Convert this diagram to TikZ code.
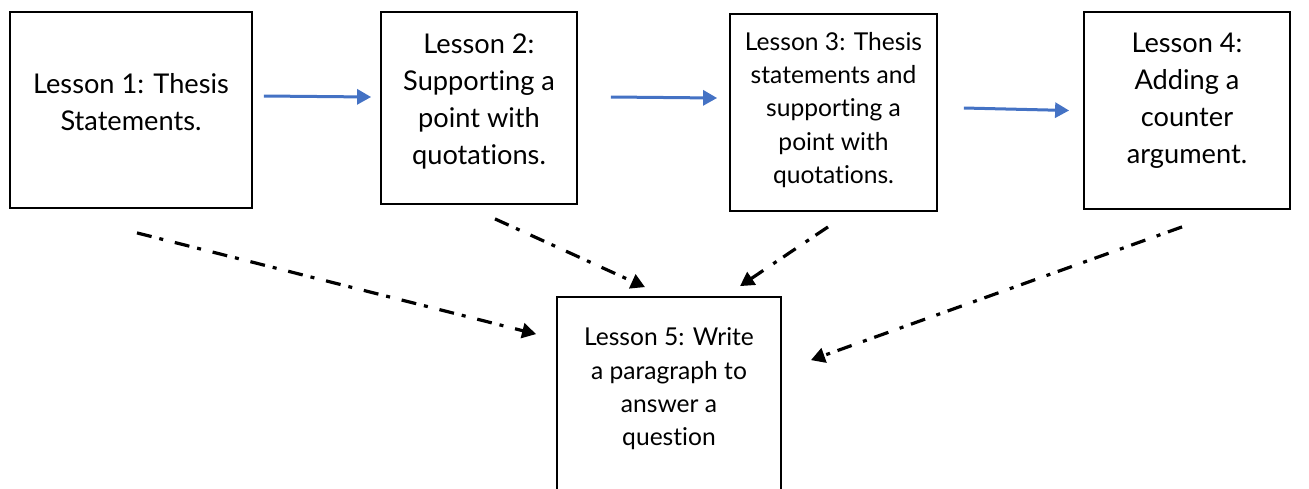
\documentclass[tikz,border=0pt]{standalone}
\usepackage{fontspec}
\setmainfont{Lato}[Ligatures={NoCommon,NoRare}]
\usetikzlibrary{arrows.meta}
\definecolor{flowblue}{HTML}{4472C4}

\begin{document}
\begin{tikzpicture}[
    x=0.5pt, y=-0.5pt,
    box/.style={draw, line width=0.9pt, inner sep=0pt},
    txt/.style={align=center, inner sep=0pt, font=\fontsize{13.6}{18.5}\selectfont},
    smalltxt/.style={align=center, inner sep=0pt, font=\fontsize{12.3}{16.7}\selectfont},
    flow/.style={-{Triangle[length=7pt,width=7.5pt]}, line width=1.5pt, draw=flowblue, color=flowblue},
    feed/.style={-{Triangle[length=7pt,width=7.5pt,sep=0pt]}, line width=1.6pt, dash pattern=on 7.5pt off 4pt on 2pt off 6pt}
  ]
    \clip (0,0) rectangle (1309,488);

    \node[box, minimum width=121pt, minimum height=98pt] (l1) at (131,110) {};
    \node[box, minimum width=98pt, minimum height=96pt] (l2) at (479,108) {};
    \node[box, minimum width=103.5pt, minimum height=98.5pt] (l3) at (833.5,112.5) {};
    \node[box, minimum width=103pt, minimum height=98.5pt] (l4) at (1187,110.5) {};
    \node[box, minimum width=112pt, minimum height=101.5pt] (l5) at (669,398.5) {};

    \node[txt] (t1) at (131,102) {Lesson 1: Thesis\\Statements.};
    \node[txt] (t2) at (479,101) {Lesson 2:\\Supporting a\\point with\\quotations.};
    \node[smalltxt] (t3) at (833.5,110) {Lesson 3: Thesis\\statements and\\supporting a\\point with\\quotations.};
    \node[txt] (t4) at (1187,101) {Lesson 4:\\Adding a\\counter\\argument.};
    \node[smalltxt] (t5) at (669,389) {Lesson 5: Write\\a paragraph to\\answer a\\question};

    % lesson sequence
    \draw[flow] ([xshift=5.5pt,yshift=7pt]l1.east) -- ([xshift=-4.5pt,yshift=5.5pt]l2.west);
    \draw[flow] ([xshift=16.5pt,yshift=5.5pt]l2.east) -- ([xshift=-6pt,yshift=7.25pt]l3.west);
    \draw[flow] ([xshift=13pt,yshift=2.25pt]l3.east) -- ([xshift=-7pt]l4.west);

    % all lead to lesson 5
    \draw[feed] ([xshift=3pt,yshift=-12pt]l1.south) -- ([xshift=-10pt,yshift=-19pt]l5.north west);
    \draw[feed] ([xshift=8pt,yshift=-7pt]l2.south) -- ([xshift=-12pt,yshift=4.5pt]l5.north);
    \draw[feed] ([xshift=-2.75pt,yshift=-7.5pt]l3.south) -- ([xshift=35.5pt,yshift=5pt]l5.north);
    \draw[feed] ([xshift=-2.5pt,yshift=-8.5pt]l4.south) -- ([xshift=14.5pt,yshift=-32pt]l5.north east);
\end{tikzpicture}
\end{document}
